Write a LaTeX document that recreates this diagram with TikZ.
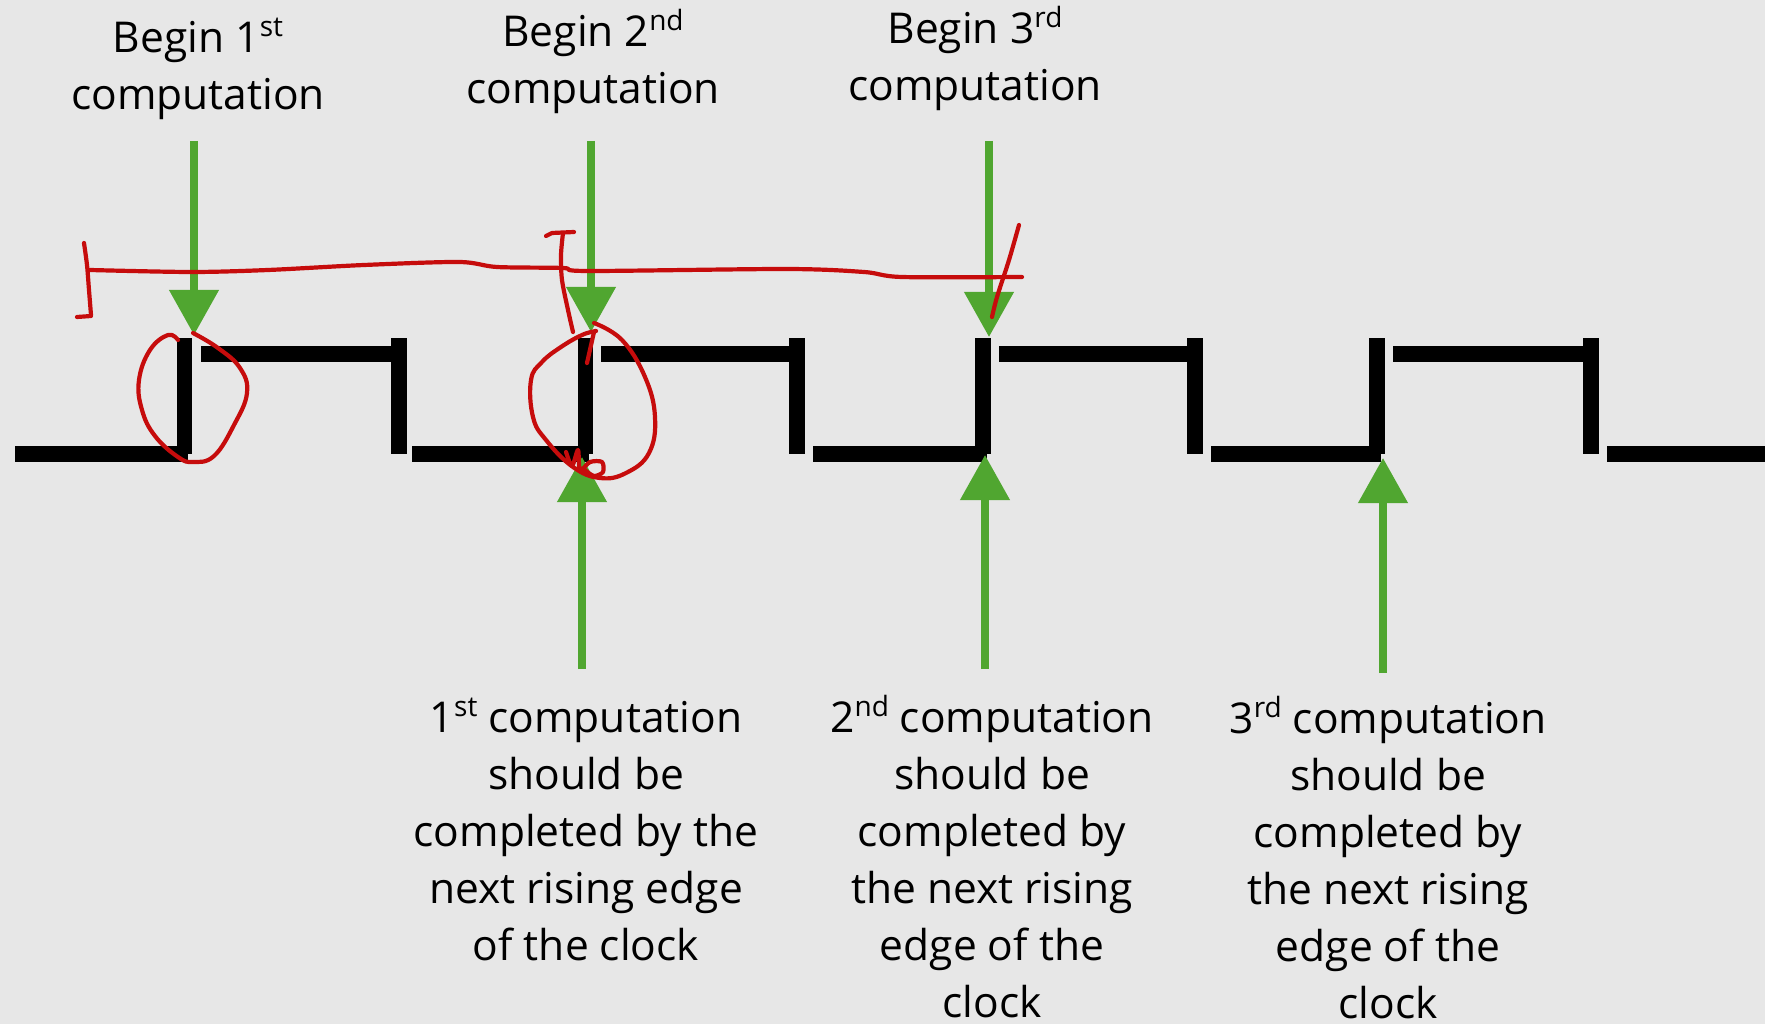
\documentclass[tikz,border=0pt]{standalone}
\usepackage{fontspec}
\setmainfont{Open Sans}
\usetikzlibrary{arrows.meta}
\definecolor{bgc}{RGB}{231,231,231}
\definecolor{grn}{RGB}{80,166,48}
\definecolor{redink}{RGB}{198,12,12}
\newcommand\mysup[1]{\raisebox{16pt}{\fontsize{28}{28}\selectfont #1}}
\begin{document}
\begin{tikzpicture}[x=1pt,y=-1pt,
  lbl/.style={inner sep=0pt, font=\fontsize{42.5}{57}\selectfont, anchor=base},
  clk/.style={fill=black},
  garrow/.style={draw=grn, line width=7.5pt, -{Triangle[width=48pt,length=45pt]}},
  ink/.style={draw=redink, line width=4.2pt, line cap=round, line join=round}]
\fill[bgc] (0,0) rectangle (1765,1024);
\useasboundingbox (0,0) rectangle (1765,1024);

% clock signal
\foreach \a/\b in {15/188, 412/589, 813/987, 1211/1381, 1607/1765}
  \fill[clk] (\a,446) rectangle (\b,462);
\foreach \a/\b in {177/192, 578/593, 975/991, 1369/1385, 391/407, 789/805, 1187/1203, 1583/1599}
  \fill[clk] (\a,338) rectangle (\b,454);
\foreach \a/\b in {201/391, 601/789, 999/1187, 1393/1583}
  \fill[clk] (\a,346) rectangle (\b,362);

% labels
\node[lbl] (t1) at (198,53) {\begin{tabular}[t]{@{}c@{}}Begin 1\mysup{st}\\computation\end{tabular}};
\node[lbl] (t2) at (593,47) {\begin{tabular}[t]{@{}c@{}}Begin 2\mysup{nd}\\computation\end{tabular}};
\node[lbl] (t3) at (975,44) {\begin{tabular}[t]{@{}c@{}}Begin 3\mysup{rd}\\computation\end{tabular}};
\node[lbl] (b1) at (586,732) {\begin{tabular}[t]{@{}c@{}}1\mysup{st} computation\\should be\\completed by the\\next rising edge\\of the clock\end{tabular}};
\node[lbl] (b2) at (992,732) {\begin{tabular}[t]{@{}c@{}}2\mysup{nd} computation\\should be\\completed by\\the next rising\\edge of the\\clock\end{tabular}};
\node[lbl] (b3) at (1388,733) {\begin{tabular}[t]{@{}c@{}}3\mysup{rd} computation\\should be\\completed by\\the next rising\\edge of the\\clock\end{tabular}};

% arrow end points
\coordinate (d1s) at (194,141); \coordinate (d1e) at (194,335);
\coordinate (d2s) at (591,141); \coordinate (d2e) at (591,332);
\coordinate (d3s) at (989,141); \coordinate (d3e) at (989,337);
\coordinate (u1s) at (582,669); \coordinate (u1e) at (582,457);
\coordinate (u2s) at (985,669); \coordinate (u2e) at (985,455);
\coordinate (u3s) at (1383,673); \coordinate (u3e) at (1383,458);
\draw[garrow] (d1s) -- (d1e);
\draw[garrow] (d2s) -- (d2e);
\draw[garrow] (d3s) -- (d3e);
\draw[garrow] (u1s) -- (u1e);
\draw[garrow] (u2s) -- (u2e);
\draw[garrow] (u3s) -- (u3e);

% red hand annotations
\draw[ink] plot[smooth] coordinates {(84,243) (87,265) (89,290) (91,315)};
\draw[ink] (91,316) -- (77,317);
\draw[ink] plot[smooth, tension=0.5] coordinates {(90,270) (191,272) (268,270) (364,265) (459,262) (497,267) (563,268) (588,271) (787,269) (864,272) (902,277) (1022,277)};
\draw[ink] (546,236) -- (552,233) -- (574,232);
\draw[ink] plot[smooth] coordinates {(563,233) (561,255) (562,280) (568,310) (573,332)};
\draw[ink] plot[smooth, tension=0.7] coordinates {(178,340) (168,335) (150,350) (139,380) (142,410) (155,436) (178,457) (193,462) (214,456) (234,425) (247,393) (240,368) (218,348) (193,333)};
\draw[ink] plot[smooth, tension=0.7] coordinates {(594,323) (622,340) (645,377) (655,417) (649,453) (626,473) (600,478) (573,467) (546,440) (533,417) (531,380) (542,362) (561,347) (582,335) (596,331)};
\draw[ink] (594,332) -- (587,363);
\draw[ink] plot[smooth] coordinates {(566,452) (572,466) (578,450) (580,470) (590,462) (602,462) (603,472) (594,476) (585,470)};
\draw[ink] plot[smooth] coordinates {(1019,225) (1009,260) (997,297) (992,317)};
\end{tikzpicture}
\end{document}
